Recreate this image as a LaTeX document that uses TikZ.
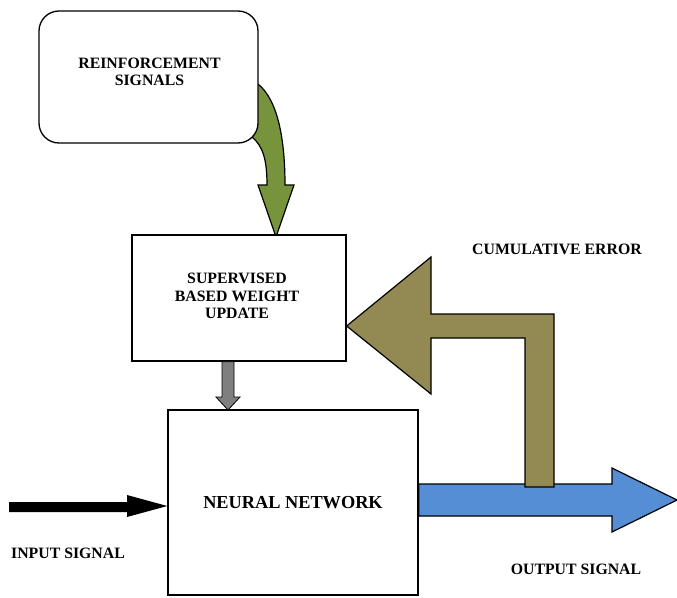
\documentclass[tikz,border=0pt]{standalone}
\usepackage{fontspec}
\setmainfont{Liberation Serif}
\definecolor{greenarrow}{HTML}{77933C}
\definecolor{olivearrow}{HTML}{938953}
\definecolor{bluearrow}{HTML}{558ED5}
\definecolor{grayarrow}{HTML}{7F7F7F}
\begin{document}
\begin{tikzpicture}[x=1pt,y=-1pt,
  box/.style={draw=black,line width=1.3pt,fill=white,inner sep=0pt},
  lbl/.style={font=\bfseries\fontsize{15.8}{17.5}\selectfont,align=center},
  bigarrow/.style={draw=black,line width=1.2pt,line join=miter}]
\useasboundingbox (0,0) rectangle (677,597);
% green curved arrow (behind box)
\path[bigarrow,fill=greenarrow] (250,84) -- (258,84) .. controls (278,100) and (285,140) .. (285,185)
  -- (294,185) -- (276,237) -- (258,185) -- (267,185)
  .. controls (267,160) and (263,146) .. (252,137) -- cycle;
% boxes
\node[box,rounded corners=20pt,minimum width=219pt,minimum height=132pt] (rein) at (148.5,77) {};
\node[lbl] at (149.5,72) {REINFORCEMENT\\SIGNALS};
\node[box,minimum width=214pt,minimum height=126pt] (sup) at (239,298) {};
\node[lbl] at (237,296) {SUPERVISED\\BASED WEIGHT\\UPDATE};
\node[box,minimum width=250pt,minimum height=185pt] (nn) at (293,502.5) {};
\node[font=\bfseries\fontsize{18.3}{20}\selectfont] at (nn.center) {NEURAL NETWORK};
% gray arrow
\path[draw=black,line width=0.8pt,fill=grayarrow] (sup.south -| 222,0) -- (222,397) -- (216,397) -- (228,410) -- (240,397) -- (234,397) -- (sup.south -| 234,0) -- cycle;
% input arrow
\path[fill=black] (9,502) -- (127,502) -- (127,495) -- (nn.west |- 0,506) -- (127,517) -- (127,512) -- (9,512) -- cycle;
% output arrow
\path[bigarrow,fill=bluearrow] (nn.east |- 0,484) -- (612,484) -- (612,468) -- (677,500) -- (612,532) -- (612,516) -- (nn.east |- 0,516) -- cycle;
% feedback arrow
\path[bigarrow,fill=olivearrow] (sup.east |- 0,326) -- (431,257) -- (431,314) -- (554,314) -- (554,487) -- (525,487) -- (525,338) -- (431,338) -- (431,394) -- cycle;
% labels
\node[lbl] (ce) at (557,249) {CUMULATIVE ERROR};
\node[lbl] (os) at (576,569) {OUTPUT SIGNAL};
\node[lbl] (is) at (68,553) {INPUT SIGNAL};
\end{tikzpicture}
\end{document}
